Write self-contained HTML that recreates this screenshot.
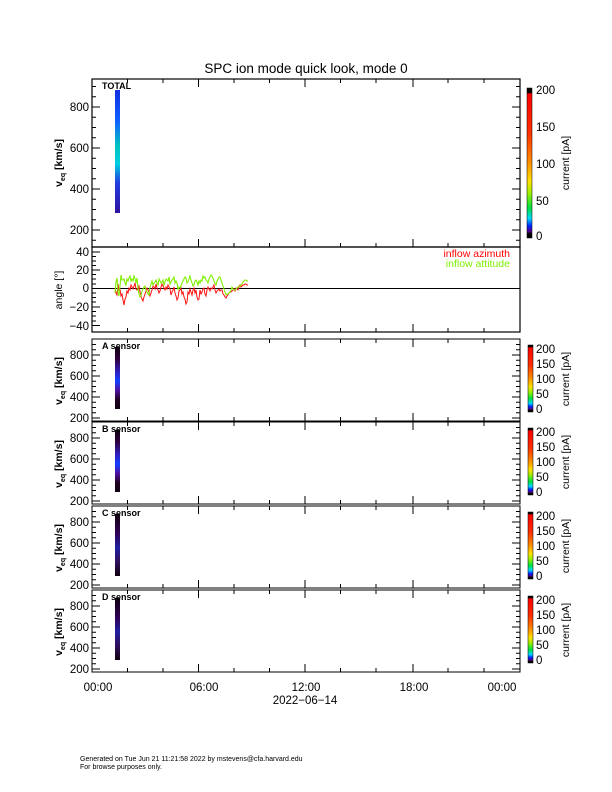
<!DOCTYPE html>
<html><head><meta charset="utf-8"><style>
html,body{margin:0;padding:0;background:#fff;}
svg{display:block;font-family:"Liberation Sans",sans-serif;}
</style></head><body>
<svg width="612" height="792" viewBox="0 0 612 792" xmlns="http://www.w3.org/2000/svg">
<defs>
<linearGradient id="cb" x1="0" y1="1" x2="0" y2="0">
<stop offset="0" stop-color="#000"/><stop offset="0.03" stop-color="#000"/>
<stop offset="0.04" stop-color="#5a007a"/><stop offset="0.08" stop-color="#0020ff"/>
<stop offset="0.13" stop-color="#00d8ff"/><stop offset="0.2" stop-color="#00e040"/>
<stop offset="0.3" stop-color="#a0f000"/><stop offset="0.38" stop-color="#ffe000"/>
<stop offset="0.5" stop-color="#ff9000"/><stop offset="0.7" stop-color="#ff3000"/>
<stop offset="0.96" stop-color="#ff0000"/><stop offset="0.97" stop-color="#000"/><stop offset="1" stop-color="#000"/>
</linearGradient>
<linearGradient id="tot" x1="0" y1="0" x2="0" y2="1">
<stop offset="0" stop-color="#1030e0"/><stop offset="0.25" stop-color="#1060ff"/>
<stop offset="0.45" stop-color="#00c0c0"/><stop offset="0.6" stop-color="#00d0e0"/>
<stop offset="0.75" stop-color="#2040e0"/><stop offset="1" stop-color="#3010a0"/>
</linearGradient>
<linearGradient id="sen" x1="0" y1="0" x2="0" y2="1">
<stop offset="0" stop-color="#100010"/><stop offset="0.2" stop-color="#300040"/>
<stop offset="0.4" stop-color="#3020c0"/><stop offset="0.55" stop-color="#1040ff"/>
<stop offset="0.7" stop-color="#5010a0"/><stop offset="0.85" stop-color="#200020"/><stop offset="1" stop-color="#100010"/>
</linearGradient>
<linearGradient id="sen2" x1="0" y1="0" x2="0" y2="1">
<stop offset="0" stop-color="#100010"/><stop offset="0.3" stop-color="#300050"/>
<stop offset="0.55" stop-color="#2020a0"/><stop offset="0.75" stop-color="#301060"/><stop offset="1" stop-color="#100010"/>
</linearGradient>
<g id="xt" stroke="#000" stroke-width="1">
<line x1="92" y1="0" x2="92" y2="-8"/><line x1="198.5" y1="0" x2="198.5" y2="-8"/><line x1="305" y1="0" x2="305" y2="-8"/><line x1="413" y1="0" x2="413" y2="-8"/>
<line x1="127.5" y1="0" x2="127.5" y2="-4"/><line x1="163" y1="0" x2="163" y2="-4"/><line x1="234" y1="0" x2="234" y2="-4"/><line x1="269.5" y1="0" x2="269.5" y2="-4"/><line x1="340.5" y1="0" x2="340.5" y2="-4"/><line x1="376" y1="0" x2="376" y2="-4"/><line x1="448" y1="0" x2="448" y2="-4"/><line x1="484" y1="0" x2="484" y2="-4"/>
</g>
<g id="xtt" stroke="#000" stroke-width="1">
<line x1="92" y1="0" x2="92" y2="8"/><line x1="198.5" y1="0" x2="198.5" y2="8"/><line x1="305" y1="0" x2="305" y2="8"/><line x1="413" y1="0" x2="413" y2="8"/>
<line x1="127.5" y1="0" x2="127.5" y2="4"/><line x1="163" y1="0" x2="163" y2="4"/><line x1="234" y1="0" x2="234" y2="4"/><line x1="269.5" y1="0" x2="269.5" y2="4"/><line x1="340.5" y1="0" x2="340.5" y2="4"/><line x1="376" y1="0" x2="376" y2="4"/><line x1="448" y1="0" x2="448" y2="4"/><line x1="484" y1="0" x2="484" y2="4"/>
</g>
<g id="sp">
<rect x="92" y="0" width="428" height="82" fill="none" stroke="#000" stroke-width="1"/>
<g stroke="#000">
<line x1="92" y1="79" x2="100" y2="79"/><line x1="92" y1="58" x2="100" y2="58"/><line x1="92" y1="37" x2="100" y2="37"/><line x1="92" y1="16" x2="100" y2="16"/>
<line x1="92" y1="73.75" x2="96" y2="73.75"/><line x1="92" y1="68.5" x2="96" y2="68.5"/><line x1="92" y1="63.25" x2="96" y2="63.25"/>
<line x1="92" y1="52.75" x2="96" y2="52.75"/><line x1="92" y1="47.5" x2="96" y2="47.5"/><line x1="92" y1="42.25" x2="96" y2="42.25"/>
<line x1="92" y1="31.75" x2="96" y2="31.75"/><line x1="92" y1="26.5" x2="96" y2="26.5"/><line x1="92" y1="21.25" x2="96" y2="21.25"/>
<line x1="92" y1="10.75" x2="96" y2="10.75"/><line x1="92" y1="5.5" x2="96" y2="5.5"/>
<line x1="520" y1="79" x2="512" y2="79"/><line x1="520" y1="58" x2="512" y2="58"/><line x1="520" y1="37" x2="512" y2="37"/><line x1="520" y1="16" x2="512" y2="16"/>
<line x1="520" y1="73.75" x2="516" y2="73.75"/><line x1="520" y1="68.5" x2="516" y2="68.5"/><line x1="520" y1="63.25" x2="516" y2="63.25"/>
<line x1="520" y1="52.75" x2="516" y2="52.75"/><line x1="520" y1="47.5" x2="516" y2="47.5"/><line x1="520" y1="42.25" x2="516" y2="42.25"/>
<line x1="520" y1="31.75" x2="516" y2="31.75"/><line x1="520" y1="26.5" x2="516" y2="26.5"/><line x1="520" y1="21.25" x2="516" y2="21.25"/>
<line x1="520" y1="10.75" x2="516" y2="10.75"/><line x1="520" y1="5.5" x2="516" y2="5.5"/>
</g>
<use href="#xt" y="82"/><use href="#xtt" y="0"/>
<g font-size="11.5" text-anchor="end">
<text x="89" y="83">200</text><text x="89" y="62">400</text><text x="89" y="41">600</text><text x="89" y="20">800</text>
</g>
<text transform="translate(62,42) rotate(-90)" font-size="10.5" font-weight="bold" text-anchor="middle">v<tspan font-size="7" dy="3">eq</tspan><tspan dy="-3"> [km/s]</tspan></text>
<rect x="528" y="6" width="5" height="67" fill="url(#cb)" stroke="#000" stroke-width="0.5"/>
<g font-size="11.5">
<text x="536" y="14">200</text><text x="536" y="29">150</text><text x="536" y="44">100</text><text x="536" y="59">50</text><text x="536" y="74">0</text>
</g>
<text transform="translate(569,40) rotate(-90)" font-size="10.5" text-anchor="middle">current  [pA]</text>
</g>
</defs>

<text x="306" y="73" font-size="13.5" text-anchor="middle">SPC ion mode quick look, mode 0</text>

<rect x="92" y="79" width="428" height="168" fill="none" stroke="#000" stroke-width="1.2"/>
<rect x="115" y="90" width="5" height="123" fill="url(#tot)"/>
<text x="102" y="89" font-size="9" font-weight="bold">TOTAL</text>
<g stroke="#000">
<line x1="92" y1="230" x2="100" y2="230"/><line x1="92" y1="189" x2="100" y2="189"/><line x1="92" y1="148" x2="100" y2="148"/><line x1="92" y1="107" x2="100" y2="107"/>
<line x1="92" y1="240.25" x2="96" y2="240.25"/><line x1="92" y1="219.75" x2="96" y2="219.75"/><line x1="92" y1="209.5" x2="96" y2="209.5"/><line x1="92" y1="199.25" x2="96" y2="199.25"/>
<line x1="92" y1="178.75" x2="96" y2="178.75"/><line x1="92" y1="168.5" x2="96" y2="168.5"/><line x1="92" y1="158.25" x2="96" y2="158.25"/>
<line x1="92" y1="137.75" x2="96" y2="137.75"/><line x1="92" y1="127.5" x2="96" y2="127.5"/><line x1="92" y1="117.25" x2="96" y2="117.25"/>
<line x1="92" y1="96.75" x2="96" y2="96.75"/><line x1="92" y1="86.5" x2="96" y2="86.5"/>
<line x1="520" y1="230" x2="512" y2="230"/><line x1="520" y1="189" x2="512" y2="189"/><line x1="520" y1="148" x2="512" y2="148"/><line x1="520" y1="107" x2="512" y2="107"/>
<line x1="520" y1="240.25" x2="516" y2="240.25"/><line x1="520" y1="219.75" x2="516" y2="219.75"/><line x1="520" y1="209.5" x2="516" y2="209.5"/><line x1="520" y1="199.25" x2="516" y2="199.25"/>
<line x1="520" y1="178.75" x2="516" y2="178.75"/><line x1="520" y1="168.5" x2="516" y2="168.5"/><line x1="520" y1="158.25" x2="516" y2="158.25"/>
<line x1="520" y1="137.75" x2="516" y2="137.75"/><line x1="520" y1="127.5" x2="516" y2="127.5"/><line x1="520" y1="117.25" x2="516" y2="117.25"/>
<line x1="520" y1="96.75" x2="516" y2="96.75"/><line x1="520" y1="86.5" x2="516" y2="86.5"/>
</g>
<use href="#xtt" y="79"/>
<g font-size="11.5" text-anchor="end">
<text x="89" y="234">200</text><text x="89" y="193">400</text><text x="89" y="152">600</text><text x="89" y="111">800</text>
</g>
<text transform="translate(62,163) rotate(-90)" font-size="10.5" font-weight="bold" text-anchor="middle">v<tspan font-size="7" dy="3">eq</tspan><tspan dy="-3"> [km/s]</tspan></text>
<rect x="527" y="88" width="5" height="150" fill="url(#cb)" stroke="#000" stroke-width="0.5"/>
<g font-size="11.5">
<text x="536" y="94">200</text><text x="536" y="131">150</text><text x="536" y="168">100</text><text x="536" y="205">50</text><text x="536" y="240">0</text>
</g>
<text transform="translate(569,163) rotate(-90)" font-size="10.5" text-anchor="middle">current  [pA]</text>

<rect x="92" y="247" width="428" height="85" fill="none" stroke="#000" stroke-width="1.2"/>
<line x1="92" y1="288.5" x2="520" y2="288.5" stroke="#000"/>
<g stroke="#000">
<line x1="92" y1="252" x2="100" y2="252"/><line x1="92" y1="270" x2="100" y2="270"/><line x1="92" y1="288.5" x2="100" y2="288.5"/><line x1="92" y1="307" x2="100" y2="307"/><line x1="92" y1="325.5" x2="100" y2="325.5"/>
<line x1="92" y1="256.5" x2="96" y2="256.5"/><line x1="92" y1="261" x2="96" y2="261"/><line x1="92" y1="265.5" x2="96" y2="265.5"/><line x1="92" y1="274.5" x2="96" y2="274.5"/><line x1="92" y1="279" x2="96" y2="279"/><line x1="92" y1="284" x2="96" y2="284"/><line x1="92" y1="293" x2="96" y2="293"/><line x1="92" y1="297.5" x2="96" y2="297.5"/><line x1="92" y1="302" x2="96" y2="302"/><line x1="92" y1="311.5" x2="96" y2="311.5"/><line x1="92" y1="316" x2="96" y2="316"/><line x1="92" y1="321" x2="96" y2="321"/>
</g>
<use href="#xt" y="332"/><use href="#xt" y="247"/>
<g font-size="11.5" text-anchor="end">
<text x="89" y="256">40</text><text x="89" y="274">20</text><text x="89" y="292">0</text><text x="89" y="311">−20</text><text x="89" y="330">−40</text>
</g>
<text transform="translate(62,290) rotate(-90)" font-size="10.5" text-anchor="middle">angle [°]</text>
<text x="510" y="257" font-size="10.5" fill="#ff0000" text-anchor="end">inflow azimuth</text>
<text x="510" y="267" font-size="10.5" fill="#80ee00" text-anchor="end">inflow attitude</text>
<polyline fill="none" stroke="#ff1010" stroke-width="1" points="115,288 116,293 117,295 118,284 119,290 120,289 121,296 122,294 123,300 124,305 125,299 126,297 127,291 128,293 129,288 130,290 131,285 132,287 133,289 134,286 135,283 136,289 137,290 138,288 139,286 140,292 141,296 142,299 143,301 144,297 145,294 146,291 147,288 148,290 149,292 150,296 151,293 152,290 153,286 154,287 155,289 156,284 157,288 158,290 159,293 160,291 161,287 162,284 163,286 164,288 165,290 166,287 167,289 168,285 169,287 170,289 171,295 172,292 173,290 174,287 175,293 176,296 177,300 178,298 179,291 180,290 181,288 182,294 183,292 184,297 185,299 186,304 187,302 188,292 189,294 190,289 191,292 192,295 193,290 194,288 195,293 196,290 197,297 198,300 199,299 200,290 201,294 202,292 203,289 204,288 205,294 206,296 207,290 208,287 209,289 210,291 211,288 212,289 213,287 214,285 215,290 216,293 217,291 218,290 219,289 220,291 221,290 222,290 223,294 224,295 225,297 226,298 227,296 228,295 229,293 230,292 231,292 232,291 233,290 234,289 235,291 236,288 237,289 238,290 239,287 240,285 241,287 242,286 243,285 244,285 245,284 246,284 247,285 248,285"/>
<polyline fill="none" stroke="#80ee00" stroke-width="1.1" points="115,293 116,282 117,278 118,292 119,296 120,286 121,275 122,280 123,280 124,279 125,283 126,285 127,279 128,281 129,278 130,276 131,281 132,279 133,281 134,276 135,279 136,283 137,278 138,288 139,294 140,297 141,296 142,291 143,289 144,287 145,286 146,290 147,292 148,294 149,295 150,287 151,284 152,281 153,285 154,283 155,282 156,280 157,283 158,285 159,279 160,281 161,283 162,282 163,280 164,285 165,282 166,279 167,280 168,281 169,277 170,284 171,282 172,280 173,279 174,277 175,283 176,281 177,283 178,290 179,287 180,288 181,286 182,283 183,281 184,279 185,277 186,278 187,283 188,282 189,279 190,276 191,280 192,283 193,286 194,285 195,281 196,280 197,282 198,285 199,281 200,283 201,280 202,281 203,276 204,278 205,277 206,280 207,281 208,283 209,279 210,277 211,275 212,276 213,278 214,281 215,283 216,285 217,281 218,279 219,277 220,277 221,280 222,283 223,286 224,289 225,292 226,295 227,294 228,294 229,293 230,292 231,290 232,287 233,289 234,290 235,290 236,289 237,288 238,287 239,286 240,286 241,285 242,284 243,282 244,281 245,280 246,280 247,281 248,281"/>

<g transform="translate(0,339)"><use href="#sp"/><rect x="115" y="8" width="5" height="62" fill="url(#sen)"/><text x="102" y="10" font-size="9" font-weight="bold">A sensor</text></g>
<g transform="translate(0,422)"><use href="#sp"/><rect x="115" y="8" width="5" height="62" fill="url(#sen)"/><text x="102" y="10" font-size="9" font-weight="bold">B sensor</text></g>
<g transform="translate(0,506)"><use href="#sp"/><rect x="115" y="8" width="5" height="62" fill="url(#sen2)"/><text x="102" y="10" font-size="9" font-weight="bold">C sensor</text></g>
<g transform="translate(0,590)"><use href="#sp"/><rect x="115" y="8" width="5" height="62" fill="url(#sen2)"/><text x="102" y="10" font-size="9" font-weight="bold">D sensor</text></g>

<g font-size="11.5" text-anchor="middle">
<text x="98" y="691">00:00</text><text x="204" y="691">06:00</text><text x="306" y="691">12:00</text><text x="414" y="691">18:00</text><text x="502" y="691">00:00</text>
<text x="305" y="704">2022−06−14</text>
</g>
<text x="80" y="761" font-size="7">Generated on Tue Jun 21 11:21:58 2022 by mstevens@cfa.harvard.edu</text>
<text x="80" y="769" font-size="7">For browse purposes only.</text>
</svg>
</body></html>
